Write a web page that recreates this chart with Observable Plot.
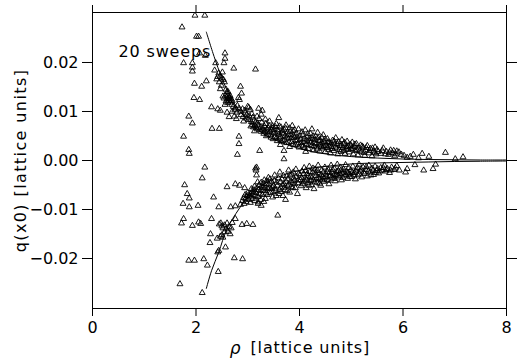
<!DOCTYPE html>
<html><head><meta charset="utf-8">
<script src="https://cdn.jsdelivr.net/npm/d3@7"></script>
<script src="https://cdn.jsdelivr.net/npm/@observablehq/plot@0.6"></script>
<style>
body{margin:0;background:#fff}
#chart svg{font-family:"DejaVu Sans",sans-serif}
#chart g[aria-label="text"] text{letter-spacing:0.85px}
#chart g[aria-label="text"]:last-of-type text{letter-spacing:1.4px}
</style>
</head><body><div id="chart"></div>
<script>
// upper branch points [rho, q(x0)]
const upperPoints = [
[1.98,0.0296],[2.17,0.0296],[1.73,0.0272],[2.01,0.0253],[2.05,0.0253],[2.07,0.0219],[2.18,0.0214],[2.56,0.0219],
[1.76,0.0199],[1.93,0.0199],[1.93,0.0190],[1.93,0.0182],[2.38,0.0199],[2.54,0.0199],[2.56,0.0208],[2.73,0.0188],
[3.15,0.0186],[2.36,0.0184],[2.44,0.0178],[2.51,0.0180],[2.47,0.0172],[2.50,0.0168],[2.53,0.0165],[2.55,0.0160],
[1.97,0.0157],[2.11,0.0151],[2.20,0.0162],[2.86,0.0151],[2.88,0.0137],[1.96,0.0128],[2.07,0.0124],[2.58,0.0145],
[2.60,0.0140],[2.62,0.0135],[2.63,0.0130],[2.65,0.0128],[2.66,0.0132],[2.68,0.0125],[2.70,0.0122],[2.61,0.0125],
[2.64,0.0122],[2.82,0.0128],[2.84,0.0124],[2.30,0.0109],[2.42,0.0105],[2.47,0.0102],[1.86,0.0090],[1.93,0.0076],
[2.31,0.0065],[2.45,0.0065],[1.76,0.0049],[2.83,0.0049],[2.83,0.0034],[1.86,0.0022],[1.87,0.0014],[2.80,0.0012],
[3.23,0.0020],[2.72,0.0110],[2.76,0.0107],[2.80,0.0112],[2.86,0.0100],[2.90,0.0105],[2.95,0.0098],[2.98,0.0093],
[3.00,0.0110],[3.02,0.0108],[3.05,0.0104],[2.60,0.0098],[2.64,0.0089],[2.74,0.0090],[2.78,0.0085],[2.92,0.0080],
[2.56,0.0114],[2.70,0.0100],
[3.08,0.0095],[3.10,0.0088],[3.12,0.0082],[3.15,0.0078],[3.18,0.0090],[3.20,0.0072],[3.22,0.0085],[3.25,0.0068],
[3.27,0.0078],[3.21,0.0106],[3.28,0.0102],[3.30,0.0062],[3.32,0.0070],[3.35,0.0075],[3.38,0.0058],[3.40,0.0066],
[3.42,0.0080],[3.44,0.0052],[3.46,0.0062],[3.48,0.0070],[3.50,0.0057],[3.13,0.0060],[3.18,0.0064],[3.36,0.0050],
[3.06,0.0070],[3.26,0.0094],
[3.52,0.0048],[3.55,0.0075],[3.58,0.0062],[3.60,0.0087],[3.60,0.0053],[3.62,0.0044],[3.64,0.0068],[3.66,0.0057],
[3.68,0.0040],[3.70,0.0063],[3.72,0.0050],[3.74,0.0072],[3.75,0.0036],[3.77,0.0058],[3.79,0.0045],[3.81,0.0066],
[3.83,0.0052],[3.85,0.0038],[3.86,0.0071],[3.88,0.0060],[3.90,0.0047],[3.92,0.0032],[3.94,0.0055],[3.96,0.0042],
[3.98,0.0064],[3.99,0.0027],[3.70,0.0020],[3.70,0.0003],[3.57,0.0040],[3.63,0.0032],[3.81,0.0028],
[4.01,0.0050],[4.03,0.0036],[4.05,0.0058],[4.07,0.0029],[4.09,0.0044],[4.11,0.0062],[4.13,0.0033],[4.15,0.0048],
[4.17,0.0024],[4.19,0.0039],[4.21,0.0055],[4.23,0.0030],[4.25,0.0044],[4.27,0.0021],[4.29,0.0036],[4.31,0.0049],
[4.33,0.0027],[4.35,0.0057],[4.37,0.0040],[4.39,0.0019],[4.41,0.0033],[4.43,0.0047],[4.45,0.0025],[4.46,0.0052],
[4.48,0.0038],[4.50,0.0018],[4.12,0.0018],[4.24,0.0064],
[4.52,0.0031],[4.54,0.0044],[4.56,0.0022],[4.58,0.0036],[4.60,0.0015],[4.62,0.0028],[4.64,0.0041],[4.66,0.0020],
[4.68,0.0033],[4.70,0.0046],[4.72,0.0025],[4.74,0.0013],[4.76,0.0038],[4.78,0.0030],[4.80,0.0018],[4.82,0.0042],
[4.84,0.0026],[4.86,0.0034],[4.88,0.0014],[4.90,0.0023],[4.92,0.0039],[4.94,0.0029],[4.96,0.0017],[4.98,0.0033],
[5.00,0.0024],
[5.02,0.0037],[5.04,0.0013],[5.06,0.0028],[5.08,0.0020],[5.10,0.0034],[5.13,0.0011],[5.15,0.0025],[5.18,0.0031],
[5.20,0.0017],[5.23,0.0027],[5.26,0.0010],[5.28,0.0021],[5.31,0.0030],[5.34,0.0015],[5.37,0.0024],[5.40,0.0009],
[5.43,0.0019],[5.46,0.0027],[5.48,0.0013],
[5.50,0.0022],[5.57,0.0014],[5.62,0.0025],[5.68,0.0018],[5.72,0.0012],[5.76,0.0021],[5.80,0.0015],[5.84,0.0009],
[5.88,0.0019],[5.92,0.0017],[5.97,0.0012],[6.02,0.0010],[6.08,0.0006],[6.14,0.0008],[6.20,0.0012],[6.30,0.0005],
[6.37,0.0014],[6.50,0.0008],[6.82,0.0016],[7.01,0.0003],[7.16,0.0007]
];
// more readings from the dense upper band
const upperBandPoints = [
[2.52,0.0131],[2.54,0.0127],[2.57,0.0133],[2.59,0.0129],[2.61,0.0118],[2.63,0.0126],[2.66,0.0119],[2.69,0.0114],
[2.58,0.0121],[2.62,0.0140],[2.47,0.0146],[2.49,0.0153],[2.45,0.0160],[2.42,0.0171],[2.40,0.0166],
[2.75,0.0103],[2.79,0.0098],[2.83,0.0106],[2.87,0.0093],[2.91,0.0089],[2.94,0.0102],[2.97,0.0086],[3.01,0.0083],
[3.03,0.0091],[3.07,0.0079],[3.09,0.0073],[3.11,0.0068],[3.14,0.0071],[3.17,0.0067],[3.19,0.0076],[3.23,0.0063],
[3.26,0.0059],[3.29,0.0066],[3.31,0.0055],[3.33,0.0060],[3.34,0.0084],[3.37,0.0064],[3.39,0.0053],[3.41,0.0071],
[3.43,0.0059],[3.45,0.0047],[3.47,0.0066],[3.49,0.0044],
[3.51,0.0063],[3.53,0.0069],[3.54,0.0055],[3.56,0.0046],[3.59,0.0058],[3.61,0.0070],[3.63,0.0049],[3.65,0.0039],
[3.67,0.0061],[3.69,0.0054],[3.71,0.0042],[3.73,0.0066],[3.76,0.0047],[3.78,0.0053],[3.80,0.0037],[3.82,0.0059],
[3.84,0.0046],[3.87,0.0033],[3.89,0.0051],[3.91,0.0062],[3.93,0.0040],[3.95,0.0048],[3.97,0.0035],
[4.02,0.0043],[4.04,0.0031],[4.06,0.0052],[4.08,0.0038],[4.10,0.0026],[4.14,0.0041],[4.16,0.0054],[4.18,0.0032],
[4.20,0.0045],[4.22,0.0037],[4.26,0.0050],[4.28,0.0029],[4.30,0.0042],[4.32,0.0034],[4.34,0.0023],[4.36,0.0046],
[4.38,0.0031],[4.40,0.0041],[4.42,0.0028],[4.44,0.0036],[4.47,0.0030],[4.49,0.0043],
[4.53,0.0026],[4.55,0.0038],[4.57,0.0029],[4.61,0.0035],[4.63,0.0024],[4.67,0.0039],[4.69,0.0027],[4.73,0.0034],
[4.77,0.0022],[4.81,0.0031],[4.85,0.0020],[4.87,0.0037],[4.91,0.0028],[4.95,0.0022],[4.99,0.0030],
[5.03,0.0025],[5.07,0.0033],[5.11,0.0022],[5.16,0.0019],[5.21,0.0029],[5.25,0.0016],[5.29,0.0026],[5.35,0.0020],
[5.41,0.0025],[5.45,0.0016],[5.52,0.0018],[5.60,0.0020],[5.66,0.0013],[5.74,0.0016],[5.82,0.0020],[5.86,0.0013]
];
// lower branch points [rho, q(x0)]
const lowerPoints = [
[2.17,-0.0014],[3.15,-0.0016],[3.16,-0.0020],[2.12,-0.0036],[2.60,-0.0054],[2.76,-0.0048],[2.84,-0.0051],[2.94,-0.0056],
[1.78,-0.0050],[1.83,-0.0068],[1.87,-0.0077],[2.34,-0.0075],[1.75,-0.0088],[1.87,-0.0095],[2.04,-0.0092],[2.44,-0.0095],
[2.67,-0.0095],[2.76,-0.0093],[1.76,-0.0119],[1.72,-0.0128],[1.93,-0.0133],[2.05,-0.0126],[2.09,-0.0129],[2.30,-0.0119],
[2.76,-0.0119],[2.89,-0.0131],[2.98,-0.0129],[3.10,-0.0131],[2.28,-0.0150],[2.27,-0.0168],[2.41,-0.0159],[2.52,-0.0157],
[2.57,-0.0177],[2.42,-0.0187],[2.44,-0.0184],[1.86,-0.0204],[1.97,-0.0204],[2.15,-0.0201],[2.22,-0.0214],[2.74,-0.0199],
[2.90,-0.0201],[2.43,-0.0227],[1.69,-0.0252],[2.12,-0.0270],
[2.45,-0.0130],[2.48,-0.0128],[2.50,-0.0134],[2.52,-0.0138],[2.55,-0.0132],[2.58,-0.0140],[2.60,-0.0128],[2.62,-0.0145],
[2.64,-0.0135],[2.66,-0.0150],[2.68,-0.0138],[2.70,-0.0127],[2.55,-0.0146],[2.50,-0.0152],[2.47,-0.0155],
[2.86,-0.0090],[2.90,-0.0082],[2.93,-0.0088],[2.96,-0.0078],[2.99,-0.0072],[3.02,-0.0080],[3.04,-0.0068],[3.06,-0.0075],
[3.08,-0.0064],[3.10,-0.0070],[3.12,-0.0060],[3.14,-0.0082],[3.16,-0.0066],[3.18,-0.0056],[3.20,-0.0074],[3.22,-0.0050],
[3.24,-0.0062],[3.26,-0.0045],[3.28,-0.0070],[3.30,-0.0055],[3.05,-0.0086],[3.19,-0.0044],[3.17,-0.0030],[3.17,-0.0014],
[3.20,-0.0085],[3.25,-0.0080],[3.20,-0.0088],[3.26,-0.0092],[3.31,-0.0084],[3.34,-0.0078],
[3.32,-0.0040],[3.34,-0.0062],[3.36,-0.0048],[3.38,-0.0070],[3.40,-0.0035],[3.42,-0.0056],[3.44,-0.0066],[3.46,-0.0043],
[3.48,-0.0075],[3.50,-0.0052],[3.52,-0.0030],[3.54,-0.0062],[3.56,-0.0045],[3.58,-0.0112],[3.60,-0.0068],[3.62,-0.0024],
[3.64,-0.0055],[3.66,-0.0038],[3.68,-0.0072],[3.70,-0.0048],[3.72,-0.0060],[3.73,-0.0080],[3.75,-0.0032],[3.77,-0.0052],
[3.79,-0.0020],[3.81,-0.0065],[3.83,-0.0042],[3.85,-0.0028],[3.87,-0.0056],[3.89,-0.0036],[3.91,-0.0048],[3.93,-0.0018],
[3.96,-0.0068],[3.98,-0.0040],[3.45,-0.0058],[3.55,-0.0072],[3.65,-0.0064],
[4.01,-0.0030],[4.03,-0.0052],[4.05,-0.0022],[4.07,-0.0044],[4.09,-0.0015],[4.11,-0.0036],[4.13,-0.0056],[4.15,-0.0027],
[4.17,-0.0046],[4.19,-0.0012],[4.21,-0.0033],[4.23,-0.0050],[4.25,-0.0024],[4.27,-0.0040],[4.28,-0.0058],[4.30,-0.0018],
[4.32,-0.0031],[4.34,-0.0045],[4.36,-0.0010],[4.38,-0.0026],[4.40,-0.0038],[4.41,-0.0051],[4.43,-0.0020],[4.45,-0.0033],
[4.47,-0.0043],[4.49,-0.0014],
[4.51,-0.0028],[4.53,-0.0039],[4.55,-0.0018],[4.57,-0.0048],[4.59,-0.0031],[4.61,-0.0010],[4.63,-0.0024],[4.65,-0.0036],
[4.67,-0.0016],[4.69,-0.0042],[4.71,-0.0029],[4.73,-0.0008],[4.75,-0.0021],[4.77,-0.0034],[4.79,-0.0014],[4.81,-0.0040],
[4.83,-0.0026],[4.85,-0.0018],[4.87,-0.0032],[4.89,-0.0009],[4.91,-0.0022],[4.93,-0.0037],[4.95,-0.0015],[4.97,-0.0028],
[4.99,-0.0020],
[5.01,-0.0033],[5.03,-0.0012],[5.06,-0.0025],[5.08,-0.0038],[5.10,-0.0018],[5.13,-0.0030],[5.15,-0.0008],[5.18,-0.0022],
[5.20,-0.0034],[5.23,-0.0014],[5.26,-0.0027],[5.28,-0.0019],[5.31,-0.0032],[5.34,-0.0010],[5.37,-0.0024],[5.40,-0.0016],
[5.43,-0.0029],[5.46,-0.0012],[5.49,-0.0021],
[5.53,-0.0026],[5.57,-0.0015],[5.60,-0.0020],[5.64,-0.0010],[5.66,-0.0022],[5.70,-0.0017],[5.74,-0.0025],[5.78,-0.0014],
[5.83,-0.0019],[5.88,-0.0011],[5.93,-0.0020],[6.05,-0.0024],[6.08,-0.0017],[6.23,-0.0009],[6.40,-0.0020],[6.58,-0.0017],
[6.63,-0.0008]
];
// more readings from the dense lower band
const lowerBandPoints = [
[2.92,-0.0076],[2.95,-0.0070],[2.97,-0.0084],[3.00,-0.0066],[3.03,-0.0073],[3.07,-0.0058],[3.09,-0.0078],[3.11,-0.0065],
[3.13,-0.0053],[3.15,-0.0072],[3.21,-0.0060],[3.23,-0.0068],[3.27,-0.0052],[3.29,-0.0061],[3.31,-0.0047],[3.33,-0.0056],
[3.35,-0.0067],[3.37,-0.0042],[3.39,-0.0058],[3.41,-0.0049],[3.43,-0.0038],[3.47,-0.0054],[3.49,-0.0064],[3.51,-0.0041],
[3.53,-0.0057],[3.57,-0.0051],[3.59,-0.0036],[3.61,-0.0060],[3.63,-0.0044],[3.67,-0.0050],[3.69,-0.0031],[3.71,-0.0055],
[3.74,-0.0043],[3.76,-0.0062],[3.78,-0.0038],[3.80,-0.0049],[3.82,-0.0030],[3.84,-0.0054],[3.86,-0.0045],[3.88,-0.0024],
[3.90,-0.0041],[3.92,-0.0056],[3.94,-0.0033],[3.97,-0.0046],[3.99,-0.0027],
[4.02,-0.0040],[4.04,-0.0035],[4.06,-0.0048],[4.08,-0.0027],[4.10,-0.0042],[4.12,-0.0021],[4.14,-0.0039],[4.16,-0.0032],
[4.18,-0.0051],[4.20,-0.0023],[4.22,-0.0041],[4.24,-0.0035],[4.26,-0.0016],[4.29,-0.0044],[4.31,-0.0026],[4.33,-0.0038],
[4.35,-0.0021],[4.37,-0.0035],[4.39,-0.0047],[4.42,-0.0029],[4.44,-0.0040],[4.46,-0.0024],[4.48,-0.0036],
[4.52,-0.0033],[4.54,-0.0023],[4.56,-0.0041],[4.58,-0.0025],[4.62,-0.0034],[4.64,-0.0019],[4.66,-0.0030],[4.68,-0.0037],
[4.72,-0.0023],[4.74,-0.0031],[4.78,-0.0027],[4.80,-0.0020],[4.84,-0.0035],[4.86,-0.0024],[4.90,-0.0029],[4.94,-0.0025],
[4.98,-0.0033],
[5.02,-0.0024],[5.05,-0.0030],[5.09,-0.0022],[5.12,-0.0015],[5.16,-0.0028],[5.19,-0.0018],[5.24,-0.0024],[5.29,-0.0013],
[5.33,-0.0022],[5.38,-0.0030],[5.42,-0.0020],[5.47,-0.0025],[5.51,-0.0017],[5.55,-0.0022],[5.62,-0.0015],[5.68,-0.0019],
[5.76,-0.0020],[5.85,-0.0016]
];
// fitted curves
const upperFitX = [2.2,2.35,2.5,2.67,2.85,3.05,3.25,3.5,3.8,4.2,4.6,5.0,5.5,6.0,6.5,7.0,7.5,8.0];
const upperFitY = [0.0262,0.0212,0.0168,0.0129,0.0100,0.0077,0.0058,0.0043,0.0031,0.0019,0.0012,0.0008,0.0005,0.0003,0.0002,0.00015,0.0001,0.0001];
const lowerFitX = [2.2,2.3,2.44,2.6,2.83,3.0,3.2,3.44,3.76,4.2,4.6,5.0,5.5,6.0,6.5,7.0,7.5,8.0];
const lowerFitY = [-0.0261,-0.0225,-0.0187,-0.0139,-0.0099,-0.0074,-0.0055,-0.0041,-0.0027,-0.0016,-0.0011,-0.0007,-0.0005,-0.0004,-0.0003,-0.0002,-0.00015,-0.0001];
const xTicks = [0,2,4,6,8];
const yTicks = [-0.02,-0.01,0,0.01,0.02];
const annotation = "20 sweeps";
const xLabelSymbol = "ρ";
const xLabelRest = "[lattice units]";
const yLabel = "q(x0) [lattice units]";

const points = [...upperPoints, ...upperBandPoints, ...lowerPoints, ...lowerBandPoints].map(([x, y]) => ({x, y}));
const upperFit = upperFitX.map((x, i) => ({x, y: upperFitY[i]}));
const lowerFit = lowerFitX.map((x, i) => ({x, y: lowerFitY[i]}));
const fmtY = d3.format(".2f");

const chart = Plot.plot({
  width: 517, height: 363,
  marginLeft: 92, marginRight: 11, marginTop: 12, marginBottom: 55,
  style: {fontFamily: "DejaVu Sans, sans-serif", fontSize: "16px", color: "black", background: "white", overflow: "visible"},
  x: {domain: [0, 8]},
  y: {domain: [-0.0302, 0.0302]},
  marks: [
    Plot.axisX(xTicks, {anchor: "bottom", tickSize: 8, tickPadding: 5, label: null, tickFormat: d => String(d), fontSize: 16}),
    Plot.axisX(xTicks, {anchor: "top", tickSize: 8, label: null, tickFormat: () => ""}),
    Plot.axisY(yTicks, {anchor: "left", tickSize: 10, tickPadding: 4, label: null, tickFormat: d => fmtY(d), fontSize: 16}),
    Plot.axisY(yTicks, {anchor: "right", tickSize: 10, label: null, tickFormat: () => ""}),
    Plot.frame({stroke: "black", strokeWidth: 1}),
    Plot.line(upperFit, {x: "x", y: "y", curve: "catmull-rom", stroke: "black", strokeWidth: 1}),
    Plot.line(lowerFit, {x: "x", y: "y", curve: "catmull-rom", stroke: "black", strokeWidth: 1}),
    Plot.dot(points, {x: "x", y: "y", symbol: "triangle", r: 2.2, stroke: "black", fill: "none", strokeWidth: 0.9}),
    Plot.text([annotation], {frameAnchor: "top-left", dx: 26, dy: 44, textAnchor: "start", lineAnchor: "bottom", fontSize: 16}),
    Plot.text([xLabelSymbol], {frameAnchor: "bottom", dx: -64, dy: 40, textAnchor: "middle", lineAnchor: "middle", fontSize: 17, fontStyle: "italic"}),
    Plot.text([xLabelRest], {frameAnchor: "bottom", dx: -49, dy: 39, textAnchor: "start", lineAnchor: "middle", fontSize: 16}),
    Plot.text([yLabel], {frameAnchor: "left", dx: -72, rotate: -90, textAnchor: "middle", lineAnchor: "middle", fontSize: 16})
  ]
});
document.getElementById("chart").append(chart);
</script>
</body></html>
